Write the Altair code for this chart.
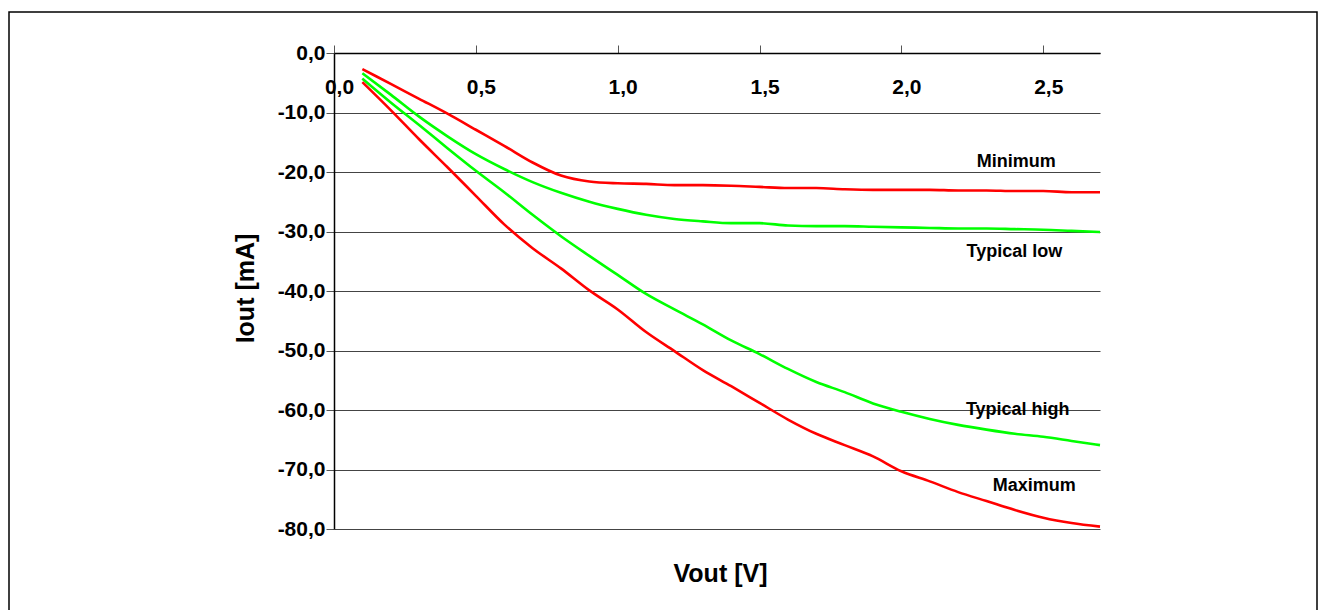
import altair as alt
import pandas as pd

vout = [0.1, 0.2, 0.3, 0.4, 0.5, 0.6, 0.7, 0.8, 0.9, 1.0, 1.1, 1.2, 1.3, 1.4,
        1.5, 1.6, 1.7, 1.8, 1.9, 2.0, 2.1, 2.2, 2.3, 2.4, 2.5, 2.6, 2.7]
minimum = [-2.7, -5.2, -7.7, -10.2, -12.9, -15.6, -18.4, -20.6, -21.6, -21.9, -22.0,
           -22.2, -22.2, -22.3, -22.5, -22.7, -22.7, -22.9, -23.0, -23.0, -23.0,
           -23.1, -23.1, -23.2, -23.2, -23.4, -23.4]
typical_low = [-3.4, -7.0, -10.7, -14.0, -17.0, -19.5, -21.7, -23.5, -25.0, -26.2,
               -27.2, -27.9, -28.3, -28.6, -28.6, -29.0, -29.1, -29.1, -29.2, -29.3,
               -29.4, -29.5, -29.5, -29.6, -29.7, -29.9, -30.1]
typical_high = [-4.3, -8.3, -12.1, -16.0, -19.8, -23.4, -27.2, -30.8, -34.1, -37.3,
                -40.5, -43.1, -45.6, -48.3, -50.6, -53.1, -55.3, -57.0, -58.9, -60.3,
                -61.5, -62.5, -63.3, -64.0, -64.5, -65.2, -65.9]
maximum = [-4.9, -9.6, -14.5, -19.2, -24.0, -28.8, -32.8, -36.2, -39.9, -43.1, -46.9,
           -50.1, -53.3, -56.0, -58.8, -61.6, -64.0, -65.9, -67.8, -70.3, -72.0,
           -73.8, -75.3, -76.8, -78.1, -79.0, -79.6]

series_names = ["Minimum", "Typical low", "Typical high", "Maximum"]
series_colors = ["#FF0000", "#00FF00", "#00FF00", "#FF0000"]
label_v = [2.405, 2.398, 2.41, 2.468]
label_i = [-18.3, -33.4, -60.0, -72.8]
x_ticks = [0.0, 0.5, 1.0, 1.5, 2.0, 2.5]
y_ticks = [0, -10, -20, -30, -40, -50, -60, -70, -80]

rows = []
for name, vals in zip(series_names, [minimum, typical_low, typical_high, maximum]):
    for v, i in zip(vout, vals):
        rows.append({"V": v, "I": i, "series": name})
df = pd.DataFrame(rows)
labels_df = pd.DataFrame({"V": label_v, "I": label_i, "series": series_names})

FONT = "Liberation Sans"
fmt = "(datum.value < 0 ? '-' : '') + replace(format(abs(datum.value), '.1f'), '.', ',')"

x_enc = alt.X(
    "V:Q",
    scale=alt.Scale(domain=[0, 2.7], nice=False, zero=False),
    axis=alt.Axis(
        orient="top", values=x_ticks, labelExpr=fmt, grid=False,
        tickSize=8, tickColor="#555555", domainColor="#000000", domainWidth=1.5,
        labelPadding=-48, labelBaseline="alphabetic", labelOffset=5,
        labelFont=FONT, labelFontSize=21, labelFontWeight="bold", labelColor="#000000",
        labelFlush=False, labelOverlap=False,
        title="Vout [V]", titleX=386, titleY=520, titleAlign="center",
        titleBaseline="middle", titleFont=FONT, titleFontSize=25,
        titleFontWeight="bold", titleColor="#000000",
    ),
)
y_enc = alt.Y(
    "I:Q",
    scale=alt.Scale(domain=[-80, 0], nice=False, zero=False),
    axis=alt.Axis(
        orient="left", values=y_ticks, labelExpr=fmt, grid=True,
        gridColor="#444444", gridWidth=1.2, tickSize=8, tickColor="#555555",
        domainColor="#000000", domainWidth=1.5, labelPadding=1,
        labelFont=FONT, labelFontSize=21, labelFontWeight="bold", labelColor="#000000",
        labelBaseline="middle", labelOverlap=False, labelFlush=False,
        title="Iout [mA]", titleX=-89, titleY=235, titleAngle=270,
        titleAlign="center", titleBaseline="middle", titleFont=FONT,
        titleFontSize=25, titleFontWeight="bold", titleColor="#000000",
    ),
)

lines = alt.Chart(df).mark_line(strokeWidth=2.6, interpolate="monotone").encode(
    x=x_enc,
    y=y_enc,
    color=alt.Color("series:N", scale=alt.Scale(domain=series_names, range=series_colors), legend=None),
    detail="series:N",
)

texts = alt.Chart(labels_df).mark_text(
    font=FONT, fontSize=18, fontWeight="bold", color="#000000",
    align="center", baseline="middle",
).encode(x="V:Q", y="I:Q", text="series:N")

border = alt.Chart(pd.DataFrame({"k": [0]})).mark_rect(
    fillOpacity=0, stroke="#000000", strokeWidth=1.5
).encode(
    x=alt.value(-325), x2=alt.value(983), y=alt.value(-41), y2=alt.value(567)
)

chart = alt.layer(border, lines, texts).properties(
    width=766, height=476,
    padding={"left": 326, "top": 45, "right": 218, "bottom": 90},
    autosize=alt.AutoSizeParams(type="none"),
    background="#FFFFFF",
).configure_view(strokeWidth=0)

chart.save("out.html", embed_options={"renderer": "svg", "actions": False})
